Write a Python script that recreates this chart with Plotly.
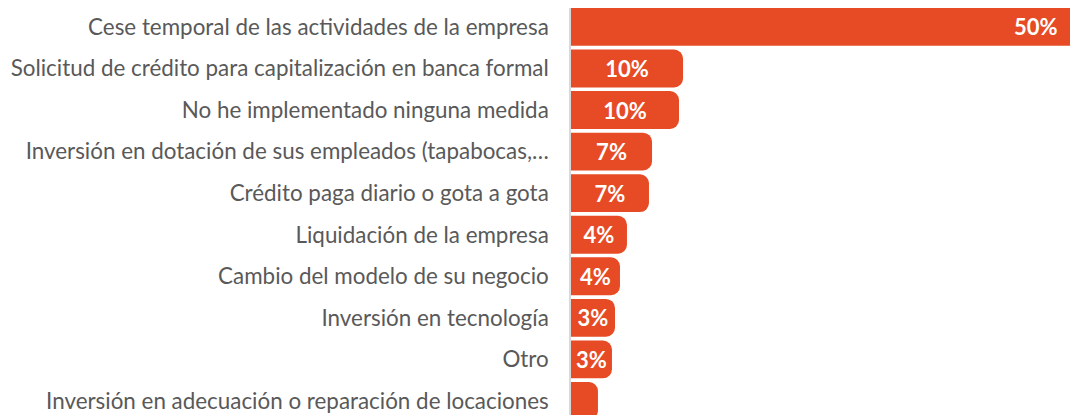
import plotly.graph_objects as go

categories = [
    "Cese temporal de las actividades de la empresa",
    "Solicitud de crédito para capitalización en banca formal",
    "No he implementado ninguna medida",
    "Inversión en dotación de sus empleados (tapabocas,…",
    "Crédito paga diario o gota a gota",
    "Liquidación de la empresa",
    "Cambio del modelo de su negocio",
    "Inversión en tecnología",
    "Otro",
    "Inversión en adecuación o reparación de locaciones",
]
# bar lengths (percent scale)
values = [50.0, 11.05, 10.65, 7.99, 7.69, 5.52, 4.83, 4.34, 4.04, 2.66]
value_labels = ["50%", "10%", "10%", "7%", "7%", "4%", "4%", "3%", "3%", ""]

BAR = "#E64B25"
LABEL_FONT = dict(family="Lato", size=22, color="white", weight="bold")

fig = go.Figure()
# top bar (runs off the right edge, square end)
fig.add_trace(go.Bar(
    y=categories[:1], x=values[:1], orientation="h",
    marker=dict(color=BAR, line=dict(width=0)),
    hoverinfo="skip", showlegend=False,
))
# remaining bars with rounded ends and centred labels
fig.add_trace(go.Bar(
    y=categories[1:], x=values[1:], orientation="h",
    marker=dict(color=BAR, line=dict(width=0), cornerradius=9),
    text=value_labels[1:], textposition="inside", insidetextanchor="middle",
    textangle=0, constraintext="none", textfont=LABEL_FONT,
    hoverinfo="skip", showlegend=False,
))
fig.add_annotation(
    x=values[0], y=categories[0], text=value_labels[0],
    xanchor="right", xshift=-18, showarrow=False, font=LABEL_FONT,
)

fig.update_layout(
    width=1078, height=415,
    margin=dict(l=563, r=0, t=0, b=0, pad=0),
    paper_bgcolor="white", plot_bgcolor="white",
    barmode="overlay", bargap=0.09,
    uniformtext=dict(minsize=22, mode="show"),
    xaxis=dict(range=[0, 50.79], visible=False, fixedrange=True),
    yaxis=dict(
        type="category", categoryorder="array", categoryarray=categories,
        range=[9.53, -0.455], automargin=False,
        showline=True, linecolor="#D9D9D9", linewidth=1.5,
        showgrid=False, ticks="", ticklabelstandoff=16,
        tickfont=dict(family="Lato", size=22.4, color="#595959"),
    ),
)

fig.write_html("out.html")
